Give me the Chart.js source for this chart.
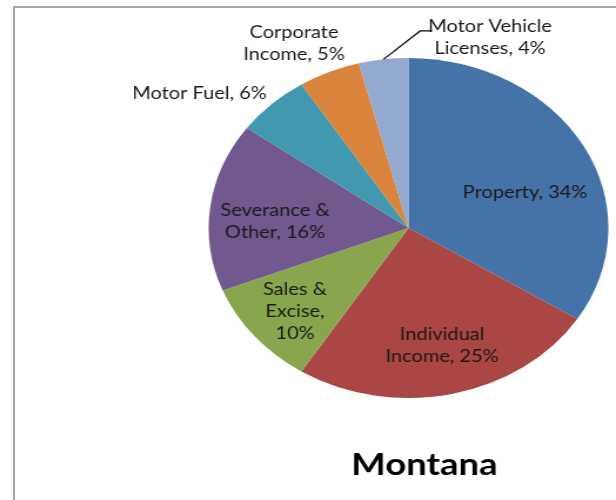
<!DOCTYPE html>
<html>
<head>
<meta charset="utf-8">
<script src="https://cdn.jsdelivr.net/npm/chart.js@4.4.1/dist/chart.umd.min.js"></script>
<style>
  html, body { margin: 0; padding: 0; background: #fff; overflow: hidden; }
  #page { position: relative; width: 616px; height: 500px; overflow: hidden; background: #fff; }
  #frame { position: absolute; left: 13px; top: 6px; width: 800px; height: 800px;
           border-left: 2px solid #a6a6a6; border-top: 2px solid #a6a6a6; }
  #wrap { position: absolute; left: 0; top: 0; width: 524px; height: 500px;
          transform: scaleX(1.1756); transform-origin: 0 0; }
</style>
</head>
<body>
<div id="page">
  <div id="frame"></div>
  <div id="wrap"><canvas id="c" width="524" height="500"></canvas></div>
</div>
<script>
const categories = ["Property", "Individual Income", "Sales & Excise", "Severance & Other", "Motor Fuel", "Corporate Income", "Motor Vehicle Licenses"];
const values = [34, 25, 10, 16, 6, 5, 4];
const colors = ["#4572A7", "#AA4643", "#89A54E", "#71588F", "#4198AF", "#DB843D", "#93A9CF"];
const labelLines = [
  ["Property, 34%"],
  ["Individual", "Income, 25%"],
  ["Sales &", "Excise,", "10%"],
  ["Severance &", "Other, 16%"],
  ["Motor Fuel, 6%"],
  ["Corporate", "Income, 5%"],
  ["Motor Vehicle", "Licenses, 4%"]
];
// label anchor relative to pie centre, in units of radius
const labelOffsets = [
  [0.583, -0.206], [0.168, 0.694], [-0.568, 0.494], [-0.668, -0.041],
  [-1.046, -0.794], [-0.573, -1.088], [0.408, -1.118]
];
const chartTitle = "Montana";

const labelPlugin = {
  id: "sliceLabels",
  afterDatasetsDraw(chart) {
    const ctx = chart.ctx;
    const meta = chart.getDatasetMeta(0);
    ctx.save();
    ctx.fillStyle = "#1a1a1a";
    ctx.font = "17px Lato";
    ctx.textAlign = "center";
    ctx.textBaseline = "middle";
    const lh = 22;
    meta.data.forEach((arc, i) => {
      const r = arc.outerRadius;
      const x = arc.x + labelOffsets[i][0] * r;
      const y = arc.y + labelOffsets[i][1] * r;
      const lines = labelLines[i];
      const y0 = y - (lines.length - 1) * lh / 2;
      lines.forEach((t, k) => ctx.fillText(t, x, y0 + k * lh));
      if (i === 6) {
        const mid = (arc.startAngle + arc.endAngle) / 2;
        const sx = arc.x + Math.cos(mid) * r;
        const sy = arc.y + Math.sin(mid) * r;
        const ex = x - 59.5, ey = y0 + 4;
        ctx.beginPath();
        ctx.strokeStyle = "#000";
        ctx.lineWidth = 1.2;
        ctx.moveTo(sx, sy);
        ctx.lineTo(ex, ey);
        ctx.lineTo(ex + 10, ey);
        ctx.stroke();
      }
    });
    // chart title
    ctx.font = "bold 31px Lato";
    ctx.fillStyle = "#000";
    ctx.textBaseline = "alphabetic";
    ctx.fillText(chartTitle, 361, 475);
    ctx.restore();
  }
};

new Chart(document.getElementById("c"), {
  type: "pie",
  data: {
    labels: categories,
    datasets: [{ data: values, backgroundColor: colors, borderWidth: 0 }]
  },
  options: {
    responsive: false,
    animation: false,
    layout: { padding: { top: 58, bottom: 102, left: 177.5, right: 6.5 } },
    plugins: { legend: { display: false }, tooltip: { enabled: false }, title: { display: false } }
  },
  plugins: [labelPlugin]
});
</script>
</body>
</html>
